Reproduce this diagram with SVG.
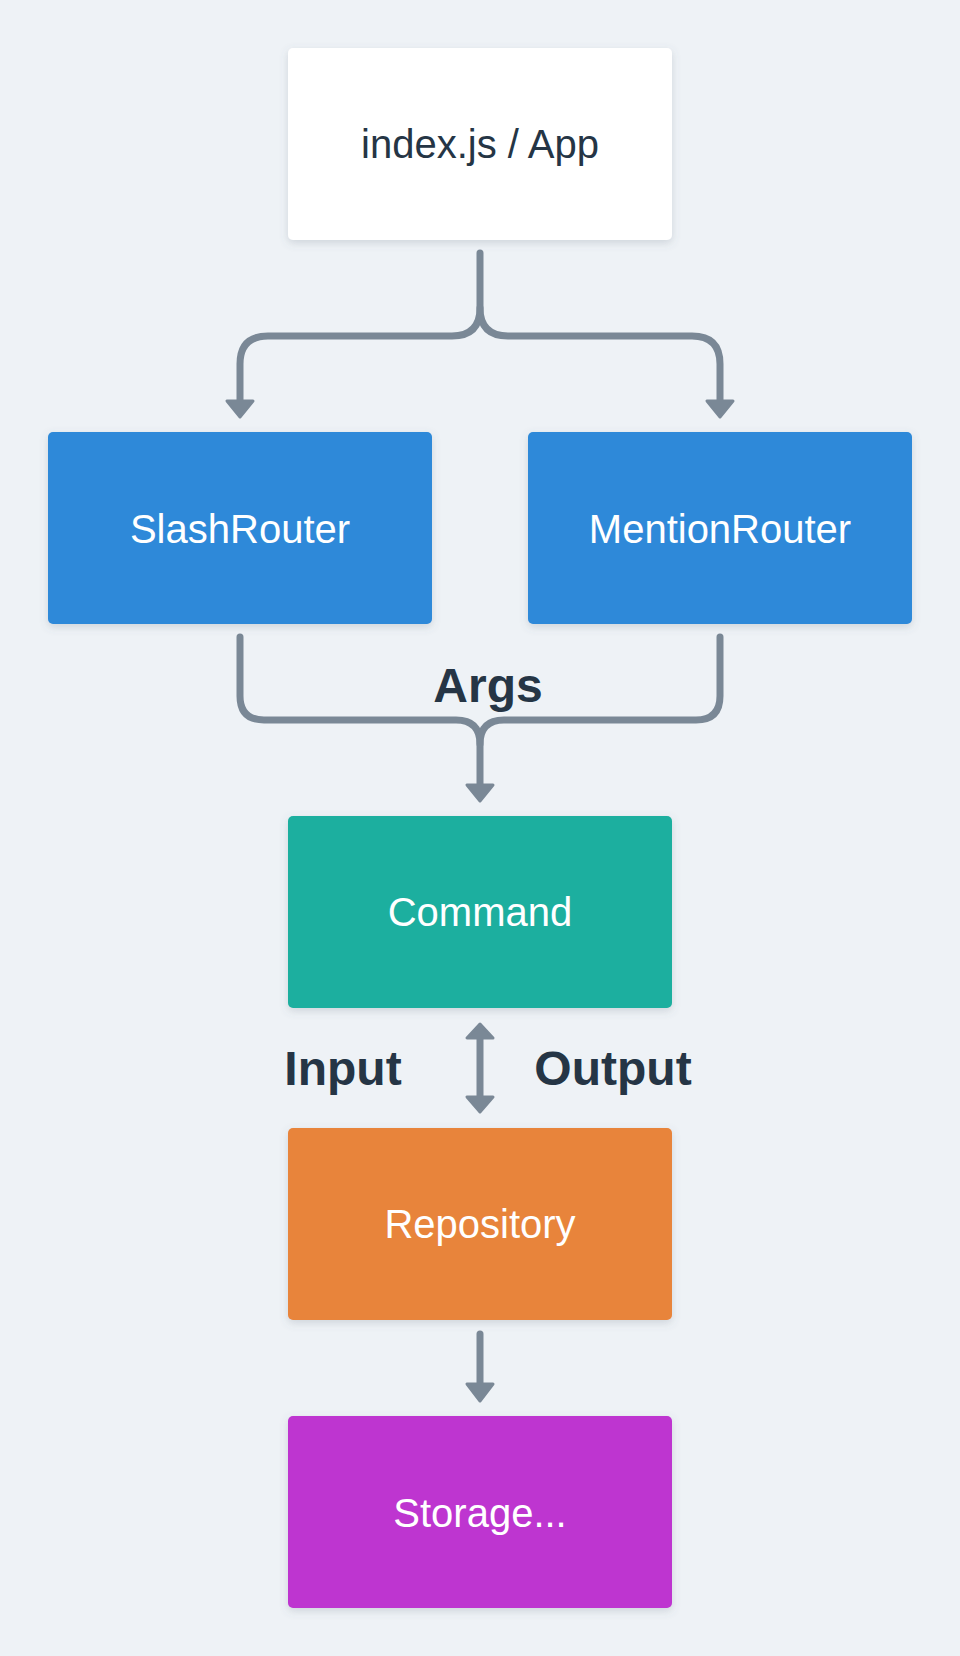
<svg xmlns="http://www.w3.org/2000/svg" width="960" height="1656" viewBox="0 0 960 1656">
  <defs>
    <filter id="shadow" x="-10%" y="-10%" width="120%" height="130%">
      <feDropShadow dx="0" dy="3" stdDeviation="4" flood-color="#5a6a7a" flood-opacity="0.22"/>
    </filter>
    <style>
      .box { filter: url(#shadow); }
      .lbl { font-family: "Liberation Sans", Arial, sans-serif; font-size: 40px; text-anchor: middle; }
      .light { fill: #ffffff; }
      .dark { fill: #253545; }
      .edge-label { font-family: "Liberation Sans", Arial, sans-serif; font-size: 48px; font-weight: bold; fill: #253545; text-anchor: middle; }
      .wire { fill: none; stroke: #7A8896; stroke-width: 7; stroke-linecap: round; stroke-linejoin: round; }
      .head { fill: #7A8896; stroke: #7A8896; stroke-width: 3; stroke-linejoin: round; }
    </style>
  </defs>
  <rect width="960" height="1656" fill="#EEF2F6"/>

  <g id="connectors">
    <!-- App to routers -->
    <path class="wire" d="M480 253 V308 Q480 336 452 336 H268 Q240 336 240 364 V400"/>
    <path class="wire" d="M480 308 Q480 336 508 336 H692 Q720 336 720 364 V400"/>
    <path class="head" d="M227 401 H253 L240 417 Z"/>
    <path class="head" d="M707 401 H733 L720 417 Z"/>
    <!-- Routers to command -->
    <path class="wire" d="M240 637 V696 Q240 720 264 720 H456 Q480 720 480 744 V784"/>
    <path class="wire" d="M720 637 V696 Q720 720 696 720 H504 Q480 720 480 744"/>
    <path class="head" d="M467 785 H493 L480 801 Z"/>
    <text class="edge-label" x="488" y="702">Args</text>
    <!-- Command <-> Repository -->
    <path class="wire" d="M480 1038 V1098"/>
    <path class="head" d="M467 1038 H493 L480 1024 Z"/>
    <path class="head" d="M467 1097 H493 L480 1112 Z"/>
    <text class="edge-label" x="343" y="1085">Input</text>
    <text class="edge-label" x="613" y="1085">Output</text>
    <!-- Repository to Storage -->
    <path class="wire" d="M480 1334 V1383"/>
    <path class="head" d="M467 1384 H493 L480 1401 Z"/>
  </g>

  <g id="app">
    <rect class="box" x="288" y="48" width="384" height="192" rx="5" fill="#FFFFFF"/>
    <text class="lbl dark" x="480" y="158">index.js / App</text>
  </g>
  <g id="slashrouter">
    <rect class="box" x="48" y="432" width="384" height="192" rx="5" fill="#2D89D9"/>
    <text class="lbl light" x="240" y="543">SlashRouter</text>
  </g>
  <g id="mentionrouter">
    <rect class="box" x="528" y="432" width="384" height="192" rx="5" fill="#2D89D9"/>
    <text class="lbl light" x="720" y="543">MentionRouter</text>
  </g>
  <g id="command">
    <rect class="box" x="288" y="816" width="384" height="192" rx="5" fill="#1BAF9F"/>
    <text class="lbl light" x="480" y="926">Command</text>
  </g>
  <g id="repository">
    <rect class="box" x="288" y="1128" width="384" height="192" rx="5" fill="#E8843A"/>
    <text class="lbl light" x="480" y="1238">Repository</text>
  </g>
  <g id="storage">
    <rect class="box" x="288" y="1416" width="384" height="192" rx="5" fill="#BE35D0"/>
    <text class="lbl light" x="480" y="1527">Storage...</text>
  </g>
</svg>
